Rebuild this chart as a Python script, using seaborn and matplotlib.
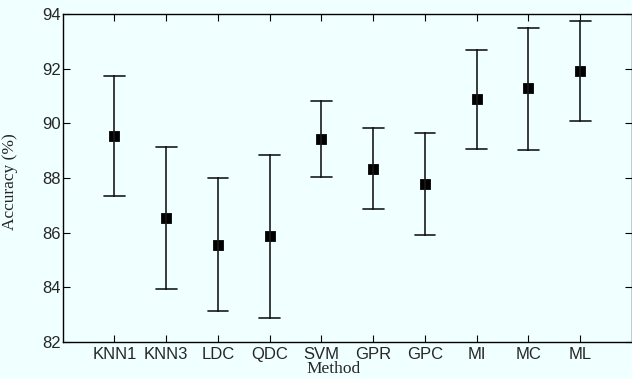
import matplotlib
matplotlib.use("Agg")
import matplotlib.pyplot as plt
import seaborn as sns
import pandas as pd

methods = ["KNN1", "KNN3", "LDC", "QDC", "SVM", "GPR", "GPC", "MI", "MC", "ML"]
mean_acc = [89.54, 86.52, 85.54, 85.86, 89.43, 88.34, 87.78, 90.88, 91.29, 91.91]
low_acc = [87.35, 83.94, 83.11, 82.88, 88.02, 86.87, 85.91, 89.06, 89.04, 90.10]
high_acc = [91.74, 89.12, 88.00, 88.83, 90.83, 89.82, 89.64, 92.69, 93.51, 93.74]
y_ticks = [82, 84, 86, 88, 90, 92, 94]

rows = []
for m, lo, mu, hi in zip(methods, low_acc, mean_acc, high_acc):
    for v in (lo, mu, hi):
        rows.append({"Method": m, "Accuracy": v})
df = pd.DataFrame(rows)

sns.set_style("ticks")
bg = "#F0FFFF"
fig = plt.figure(figsize=(6.32, 3.79), dpi=100, facecolor=bg)
ax = fig.add_axes([0.0992, 0.0984, 0.9008, 0.8639])
ax.set_facecolor(bg)

sns.pointplot(
    data=df, x="Method", y="Accuracy", order=methods,
    estimator="median", errorbar=lambda x: (x.min(), x.max()),
    color="black", markers="s", linestyles="none", markersize=6.2,
    capsize=0.4, err_kws={"linewidth": 1.2, "color": "#1a1a1a"},
    ax=ax,
)

ax.set_xlim(-1, 10)
ax.set_ylim(82, 94)
ax.set_yticks(y_ticks)
ax.set_yticklabels([str(t) for t in y_ticks], family="Liberation Sans", fontsize=12)
ax.set_xticks(range(len(methods)))
ax.set_xticklabels(methods, family="Liberation Sans", fontsize=12)
ax.tick_params(direction="in", top=True, right=True, length=5, width=0.8, color="black")
ax.tick_params(axis="y", pad=1.5)
ax.tick_params(axis="x", pad=4)
for s in ax.spines.values():
    s.set_visible(True)
    s.set_color("black")
    s.set_linewidth(1.0)

ax.set_xlabel("Method", family="Liberation Serif", fontsize=12.5, labelpad=0)
ax.set_ylabel("Accuracy (%)", family="Liberation Serif", fontsize=12.5)
ax.xaxis.set_label_coords(0.475, -0.060)
ax.yaxis.set_label_coords(-0.078, 0.49)

fig.savefig("out.png", dpi=100, facecolor=bg)
